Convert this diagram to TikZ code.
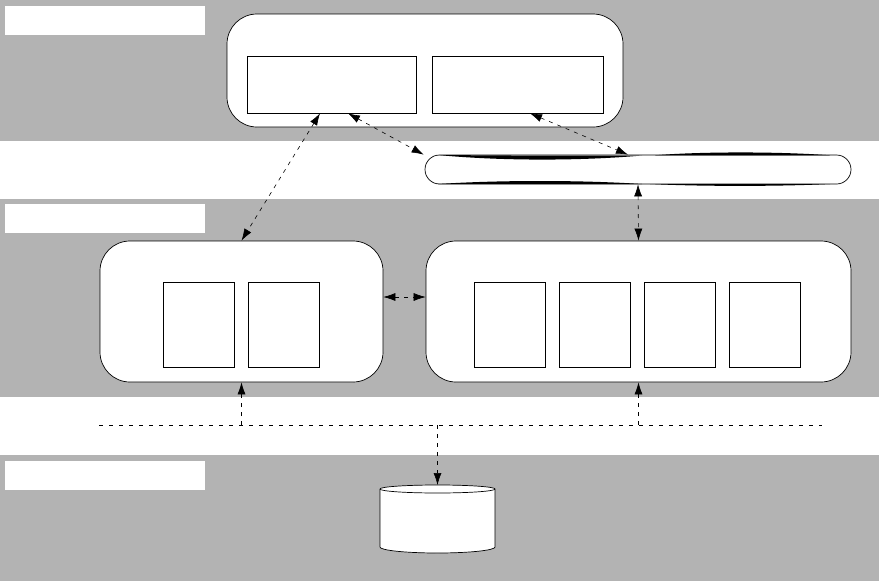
\documentclass[tikz,border=0pt]{standalone}
\usetikzlibrary{arrows.meta,calc}
\definecolor{bandgray}{HTML}{B3B3B3}
\tikzset{
  band/.style={fill=bandgray,draw=none},
  tag/.style={fill=white,draw=none,rectangle,inner sep=0pt,minimum width=200pt,minimum height=29pt},
  bigbox/.style={draw=black,fill=white,rounded corners=30pt,line width=0.7pt,inner sep=0pt},
  barbox/.style={draw=black,fill=white,rounded corners=14.5pt,line width=0.7pt,inner sep=0pt,minimum width=426pt,minimum height=29pt},
  inbox/.style={draw=black,fill=white,line width=0.7pt,inner sep=0pt},
  comp/.style={inbox,minimum width=71pt,minimum height=85pt},
  lens/.style={fill=black,draw=none},
  link/.style={dash pattern=on 4pt off 5pt,line width=0.6pt,{Latex[length=12pt,width=8pt]}-{Latex[length=12pt,width=8pt]}},
  uplink/.style={dash pattern=on 4pt off 5pt,line width=0.6pt,-{Latex[length=12pt,width=8pt]}},
  bus/.style={dash pattern=on 4pt off 6pt,line width=0.6pt}
}
\begin{document}
\begin{tikzpicture}[x=1pt,y=-1pt]
\useasboundingbox (0,0) rectangle (879,581);
% background bands
\fill[white] (0,0) rectangle (879,581);
\path[band] (0,0) rectangle (879,141);
\path[band] (0,199) rectangle (879,397);
\path[band] (0,455) rectangle (879,581);
% tags
\node[tag] (tag1) at (105,20.5) {};
\node[tag] (tag2) at (105,218.5) {};
\node[tag] (tag3) at (105,475) {};
% top box
\node[bigbox,minimum width=396pt,minimum height=113pt] (top) at (425,70.5) {};
\node[inbox,minimum width=169pt,minimum height=57pt] (in1) at (331.5,84.5) {};
\node[inbox,minimum width=171pt,minimum height=57pt] (in2) at (517.5,84.5) {};
% bar
\node[barbox] (bar) at (638,169.5) {};
\path[lens] (438,155) .. controls (500,161) and (580,161) .. (642,155.5) .. controls (580,156) and (500,155.5) .. cycle;
\path[lens] (655,155.3) .. controls (700,151.5) and (780,151.5) .. (830,155.3) .. controls (780,155.3) and (700,155.3) .. cycle;
\path[lens] (438,184) .. controls (500,180) and (580,180) .. (642,184) .. controls (580,184.2) and (500,184.2) .. cycle;
\path[lens] (650,184) .. controls (700,186.5) and (780,186.5) .. (830,184) .. controls (780,184) and (700,184) .. cycle;
% middle boxes
\node[bigbox,minimum width=283pt,minimum height=141pt] (lbox) at (241.5,311.5) {};
\node[bigbox,minimum width=425pt,minimum height=141pt] (rbox) at (638.5,311.5) {};
\node[comp] (c1) at (198.5,325) {};
\node[comp] (c2) at (283.5,325) {};
\node[comp] (c3) at (509.5,325) {};
\node[comp] (c4) at (594.5,325) {};
\node[comp] (c5) at (679.5,325) {};
\node[comp] (c6) at (764.5,325) {};
% database cylinder
\coordinate (dbtop) at (437.5,485);
\draw[fill=white,line width=0.7pt] (380,489) -- (380,547) arc[start angle=180,end angle=360,x radius=57.5pt,y radius=6pt] -- (495,489) arc[start angle=0,end angle=180,x radius=57.5pt,y radius=4pt] -- cycle;
\draw[line width=0.7pt] (380,489) arc[start angle=180,end angle=360,x radius=57.5pt,y radius=4pt];
% connectors
\draw[link] ([xshift=-11.5pt]in1.south) -- (lbox.north);
\draw[link] ([xshift=16.5pt]in1.south) -- ([xshift=-1pt]bar.north west);
\draw[link] ([xshift=12.5pt]in2.south) -- ([xshift=-10pt]bar.north);
\draw[link] (bar.south) -- (rbox.north);
\draw[link] ([yshift=14.5pt]lbox.east) -- ([yshift=14.5pt]rbox.west);
% bus
\coordinate (busl) at (99,425);
\coordinate (busr) at (822,425);
\draw[bus] (busl) -- (busr);
\draw[uplink] (lbox.south |- busl) -- (lbox.south);
\draw[uplink] (rbox.south |- busl) -- (rbox.south);
\draw[uplink] (dbtop |- busl) -- (dbtop);
\end{tikzpicture}
\end{document}
